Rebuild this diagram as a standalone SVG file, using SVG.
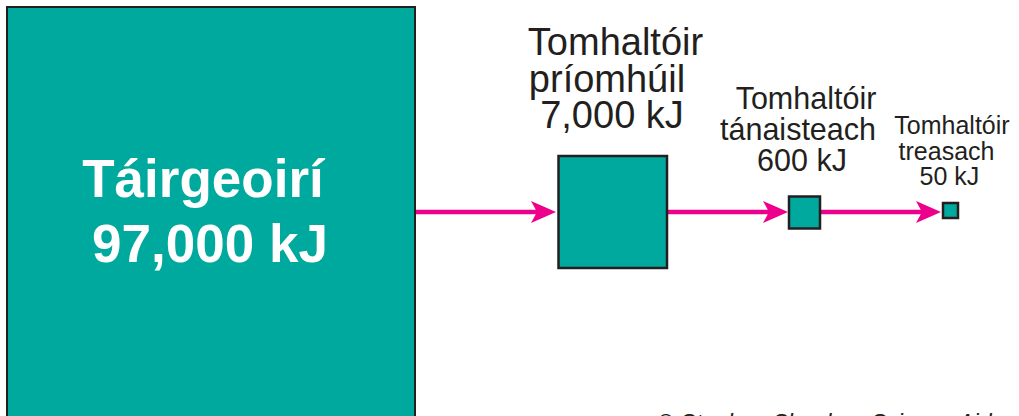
<svg xmlns="http://www.w3.org/2000/svg" width="1019" height="416" viewBox="0 0 1019 416">
<style>
.box{fill:#00a99d;stroke:#231f20}
.lbl{font-family:"Liberation Sans",Arial,sans-serif;fill:#231f20;text-anchor:middle}
.big{font-family:"Liberation Sans",Arial,sans-serif;font-weight:bold;fill:#ffffff;text-anchor:middle;font-size:53px}
.arrow{stroke:#ec008c;stroke-width:4.5;fill:none;marker-end:url(#head)}
</style>
<defs>
<marker id="head" viewBox="0 0 25 22" refX="6" refY="11" markerWidth="25" markerHeight="22" markerUnits="userSpaceOnUse" orient="auto">
<path d="M0,0 L25,11 L0,22 L6,11 Z" fill="#ec008c"/>
</marker>
</defs>
<rect width="1019" height="416" fill="#ffffff"/>
<g id="connectors">
<line class="arrow" x1="416" y1="212" x2="537" y2="212"/>
<line class="arrow" x1="668" y1="212" x2="769" y2="212"/>
<line class="arrow" x1="821" y1="212" x2="922" y2="212"/>
</g>
<g id="producers">
<rect class="box" x="7" y="7" width="408" height="420" stroke-width="2"/>
<text class="big" x="203" y="197">Táirgeoirí</text>
<text class="big" x="210" y="262">97,000 kJ</text>
</g>
<g id="primary">
<rect class="box" x="558.5" y="156" width="108.5" height="112" stroke-width="2.5"/>
<text class="lbl" font-size="38" x="615.5" y="55">Tomhaltóir</text>
<text class="lbl" font-size="38" x="607" y="91.5">príomhúil</text>
<text class="lbl" font-size="38" x="612" y="128">7,000 kJ</text>
</g>
<g id="secondary">
<rect class="box" x="789" y="196.5" width="31" height="32" stroke-width="2.5"/>
<text class="lbl" font-size="30.5" x="806" y="108.5">Tomhaltóir</text>
<text class="lbl" font-size="30.5" x="798" y="140">tánaisteach</text>
<text class="lbl" font-size="30.5" x="802" y="171">600 kJ</text>
</g>
<g id="tertiary">
<rect class="box" x="943" y="203" width="15" height="15" stroke-width="2.5"/>
<text class="lbl" font-size="25" x="952" y="133.5">Tomhaltóir</text>
<text class="lbl" font-size="25" x="946.5" y="159.5">treasach</text>
<text class="lbl" font-size="25" x="949.5" y="185">50 kJ</text>
</g>
<text x="657" y="431" font-family="'Liberation Sans',Arial,sans-serif" font-style="italic" font-size="23" fill="#231f20">© Stephen Sheehan Science Aid</text>
</svg>
